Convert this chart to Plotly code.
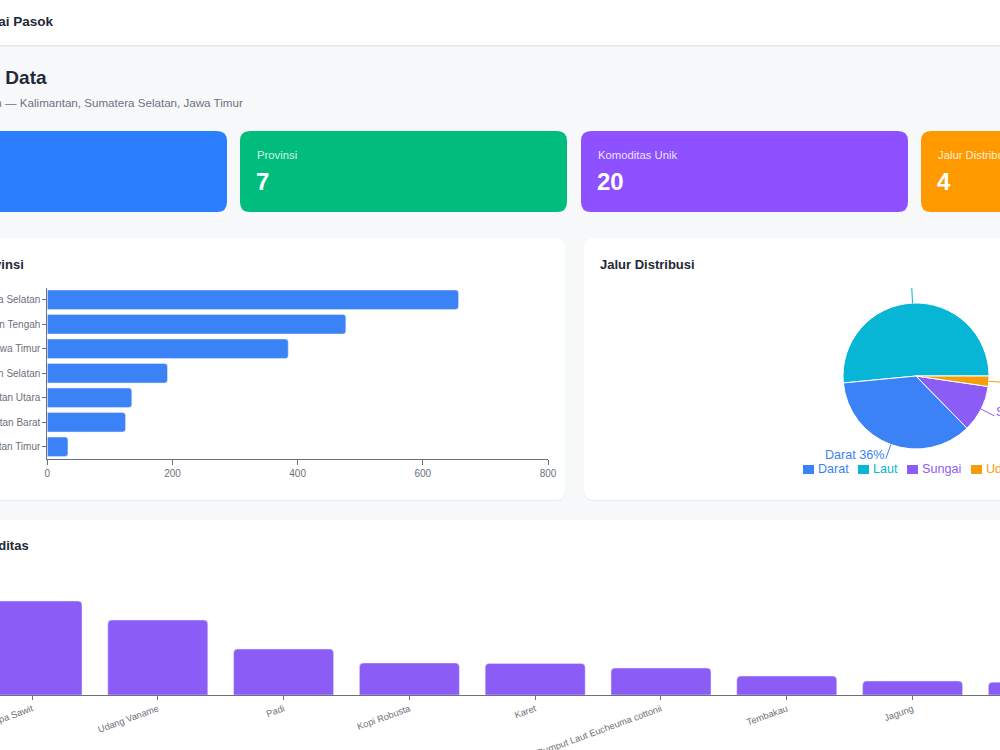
import math
import plotly.graph_objects as go

W, H = 1000, 750
FONT = "Liberation Sans, Arial, sans-serif"

# ---------------- data ----------------
page_header = "Dashboard Rantai Pasok"
page_title = "Ringkasan Data"
page_subtitle = "Sebaran wilayah pasokan — Kalimantan, Sumatera Selatan, Jawa Timur"

kpi_labels = ["Total Rekaman", "Provinsi", "Komoditas Unik", "Jalur Distribusi"]
kpi_values = ["2.003", "7", "20", "4"]

province_title = "Volume per Provinsi"
provinces = ["Sumatera Selatan", "Kalimantan Tengah", "Jawa Timur", "Kalimantan Selatan",
             "Kalimantan Utara", "Kalimantan Barat", "Kalimantan Timur"]
province_values = [657, 477, 385, 192, 135, 125, 33]
province_ticks = [0, 200, 400, 600, 800]

route_title = "Jalur Distribusi"
routes = ["Darat", "Laut", "Sungai", "Udara"]
route_values = [717, 1032, 208, 46]

commodity_title = "Top Komoditas"
commodities = ["Kelapa Sawit", "Udang Vaname", "Padi", "Kopi Robusta", "Karet",
               "Rumput Laut Eucheuma cottonii", "Tembakau", "Jagung", "Kakao"]
commodity_values = [470, 375, 230, 160, 158, 135, 95, 70, 64]

# ---------------- styles ----------------
PAGE_BG = "#f6f8fa"
KPI_COLORS = ["#2b7fff", "#00bc7d", "#8e51ff", "#fe9a00"]
ROUTE_COLORS = ["#3b82f6", "#06b6d4", "#8b5cf6", "#f59e0b"]
AXIS_COLOR = "#6e7079"


def px(x):
    return x / W


def py(y):
    return 1 - y / H


def rrect(x0, y0, x1, y1, r, color):
    path = (f"M {px(x0 + r)},{py(y0)} L {px(x1 - r)},{py(y0)} "
            f"Q {px(x1)},{py(y0)} {px(x1)},{py(y0 + r)} "
            f"L {px(x1)},{py(y1 - r)} Q {px(x1)},{py(y1)} {px(x1 - r)},{py(y1)} "
            f"L {px(x0 + r)},{py(y1)} Q {px(x0)},{py(y1)} {px(x0)},{py(y1 - r)} "
            f"L {px(x0)},{py(y0 + r)} Q {px(x0)},{py(y0)} {px(x0 + r)},{py(y0)} Z")
    return dict(type="path", path=path, xref="paper", yref="paper", layer="below",
                fillcolor=color, line=dict(width=0))


def text(x, y, s, size, color, bold=False, xanchor="left"):
    return dict(x=px(x), y=py(y), xref="paper", yref="paper", text=s, showarrow=False,
                xanchor=xanchor, yanchor="middle", borderpad=0, borderwidth=0,
                font=dict(family=FONT, size=size, color=color,
                          weight="bold" if bold else "normal"))


shapes = []
annotations = []

# header
shapes.append(dict(type="rect", xref="paper", yref="paper", x0=0, x1=1, y0=py(45), y1=1,
                   fillcolor="white", line=dict(width=0), layer="below"))
shapes.append(dict(type="line", xref="paper", yref="paper", x0=0, x1=1, y0=py(45.5), y1=py(45.5),
                   line=dict(color="#e3e6ea", width=1), layer="below"))
shapes.append(dict(type="line", xref="paper", yref="paper", x0=0, x1=1, y0=py(46.5), y1=py(46.5),
                   line=dict(color="#eef0f3", width=1), layer="below"))
annotations.append(text(54, 21, page_header, 13.5, "#1f2937", True, "right"))
annotations.append(text(47, 78, page_title, 19, "#1f2937", True, "right"))
annotations.append(text(243, 102, page_subtitle, 11.6, "#6b7280", False, "right"))

# KPI cards
kpi_x = [-100, 240, 581, 921]
for xk, lab, val, col in zip(kpi_x, kpi_labels, kpi_values, KPI_COLORS):
    shapes.append(rrect(xk, 131, xk + 327, 212, 10, col))
    annotations.append(text(xk + 17, 155, lab, 11.3, "rgba(255,255,255,0.85)"))
    annotations.append(text(xk + 16, 181, val, 24, "white", True))

# chart cards (with soft shadow)
for (x0, y0, x1, y1) in [(-20, 238, 565, 500), (584, 238, 1020, 500), (-20, 520, 1020, 790)]:
    shapes.append(rrect(x0, y0 + 1, x1, y1 + 1, 10, "#e8ebef"))
    shapes.append(rrect(x0, y0, x1, y1, 10, "white"))

annotations.append(text(24, 264, province_title, 13, "#1f2937", True, "right"))
annotations.append(text(600, 264, route_title, 13, "#1f2937", True, "left"))
annotations.append(text(29, 545, commodity_title, 13, "#1f2937", True, "right"))

# ---------------- traces ----------------
fig = go.Figure()

fig.add_trace(go.Bar(
    x=commodities, y=commodity_values, xaxis="x", yaxis="y",
    marker=dict(color="#8b5cf6", cornerradius=4), hoverinfo="skip"))

fig.add_trace(go.Bar(
    y=provinces, x=province_values, orientation="h", xaxis="x2", yaxis="y2",
    marker=dict(color="#3b82f6", cornerradius=3), hoverinfo="skip"))

# pie: largest slice starts at 3 o'clock and sweeps counterclockwise
cx, cy, R = 916, 376, 73
total = sum(route_values)
first_share = max(route_values) / total
fig.add_trace(go.Pie(
    labels=routes, values=route_values, sort=True, direction="counterclockwise",
    rotation=90 - 360 * first_share, textinfo="none", showlegend=False, hoverinfo="skip",
    marker=dict(colors=ROUTE_COLORS, line=dict(color="white", width=1)),
    domain=dict(x=[px(cx - R), px(cx + R)], y=[py(cy + R), py(cy - R)])))

# pie leader lines + labels (derived from values)
order = sorted(range(len(routes)), key=lambda i: -route_values[i])
ang = 0.0
for i in order:
    sweep = 360.0 * route_values[i] / total
    mid = math.radians(ang + sweep / 2)
    ang += sweep
    xa, ya = cx + R * math.cos(mid), cy - R * math.sin(mid)
    xb, yb = cx + (R + 15) * math.cos(mid), cy - (R + 15) * math.sin(mid)
    shapes.append(dict(type="line", xref="paper", yref="paper", x0=px(xa), y0=py(ya),
                       x1=px(xb), y1=py(yb), line=dict(color=ROUTE_COLORS[i], width=1)))
    pct = round(100 * route_values[i] / total)
    if yb > 292 and xb < 1000:
        if math.cos(mid) < 0:
            annotations.append(text(xb - 1, yb - 4, f"{routes[i]} {pct}%", 12.6,
                                    ROUTE_COLORS[i], False, "right"))
        else:
            annotations.append(text(xb + 2, yb - 4, f"{routes[i]} {pct}%", 12.6,
                                    ROUTE_COLORS[i], False, "left"))

# manual legend for pie
legend_x = [803, 858, 907, 971]
for lx, name, col in zip(legend_x, routes, ROUTE_COLORS):
    shapes.append(dict(type="rect", xref="paper", yref="paper", x0=px(lx), x1=px(lx + 11),
                       y0=py(474), y1=py(465), fillcolor=col, line=dict(width=0)))
    annotations.append(text(lx + 15, 469, name, 12.6, col))

fig.update_layout(
    width=W, height=H, margin=dict(l=0, r=0, t=0, b=0),
    paper_bgcolor=PAGE_BG, plot_bgcolor="rgba(0,0,0,0)",
    showlegend=False, bargap=0.205, font=dict(family=FONT),
    shapes=shapes, annotations=annotations,
    xaxis=dict(domain=[0, 1], anchor="y", type="category", range=[-0.2544, 7.695],
               tickangle=-20, ticks="outside", ticklen=4, tickcolor=AXIS_COLOR,
               showline=True, linecolor=AXIS_COLOR, linewidth=1,
               tickfont=dict(size=9.3, color=AXIS_COLOR, family=FONT),
               showgrid=False, zeroline=False, automargin=False, fixedrange=True),
    yaxis=dict(domain=[py(695), py(575)], anchor="x", range=[0, 600], visible=False,
               fixedrange=True),
    xaxis2=dict(domain=[px(47.3), px(548)], anchor="y2", range=[0, 800],
                tickvals=province_ticks, ticks="outside", ticklen=5, tickcolor=AXIS_COLOR,
                showline=True, linecolor=AXIS_COLOR, linewidth=1,
                tickfont=dict(size=10, color=AXIS_COLOR, family=FONT),
                showgrid=False, zeroline=False, automargin=False, fixedrange=True),
    yaxis2=dict(domain=[py(459), py(287.5)], anchor="x2", type="category",
                autorange="reversed", ticks="outside", ticklen=4, tickcolor=AXIS_COLOR,
                showline=True, linecolor=AXIS_COLOR, linewidth=1,
                tickfont=dict(size=10, color=AXIS_COLOR, family=FONT),
                showgrid=False, zeroline=False, automargin=False, fixedrange=True),
)

fig.write_html("out.html", config=dict(displayModeBar=False))
